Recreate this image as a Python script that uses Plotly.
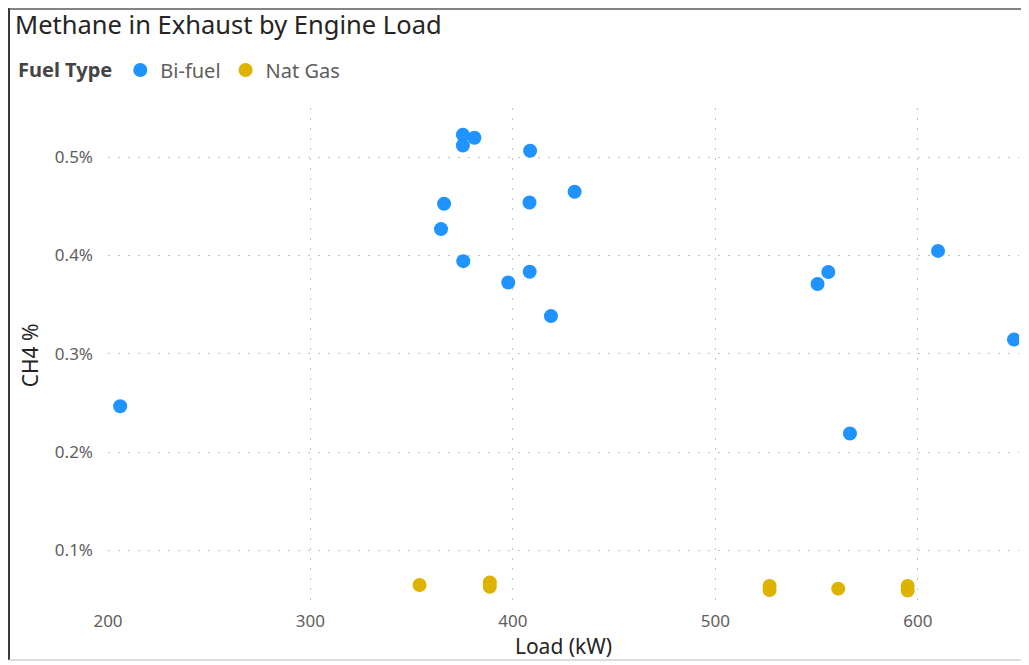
import plotly.graph_objects as go

# Data
bifuel_load = [206, 375.3, 381, 375.3, 408.5, 430.5, 366, 408.2, 364.5, 375.5,
               408.3, 397.7, 418.8, 550.5, 555.8, 610, 647.5, 566.5]
bifuel_ch4 = [0.2465, 0.5228, 0.5197, 0.5119, 0.5065, 0.4648, 0.4526, 0.4539, 0.4268, 0.3942,
              0.3834, 0.3725, 0.3383, 0.371, 0.3831, 0.4046, 0.3144, 0.2188]

natgas_load = [353.9, 388.6, 388.6, 526.8, 526.8, 560.7, 595, 595]
natgas_ch4 = [0.0647, 0.0672, 0.0630, 0.0637, 0.0597, 0.061, 0.0637, 0.059]

x_ticks = [200, 300, 400, 500, 600]
y_ticks = [0.1, 0.2, 0.3, 0.4, 0.5]
y_tick_text = ["0.1%", "0.2%", "0.3%", "0.4%", "0.5%"]

BLUE = "#1F93FF"
GOLD = "#DDB300"
FONT = "Noto Sans"

# page body has an 8px margin, so the figure starts at (8, 8) in the window
OFF = 8
W, H = 1029 - OFF, 665 - OFF
L, T = 108 - OFF, 108 - OFF
R = W - (1019 - OFF)
B = H - (603 - OFF)
PW, PH = W - L - R, H - T - B


def px_x(p):
    return (p - OFF - L) / PW


def px_y(p):
    return (H - B - (p - OFF)) / PH


fig = go.Figure()
fig.add_trace(go.Scatter(x=bifuel_load, y=bifuel_ch4, mode="markers", name="Bi-fuel",
                         marker=dict(color=BLUE, size=14, line=dict(width=0))))
fig.add_trace(go.Scatter(x=natgas_load, y=natgas_ch4, mode="markers", name="Nat Gas",
                         marker=dict(color=GOLD, size=14, line=dict(width=0))))

grid = dict(showgrid=True, gridcolor="#C4C2C0", gridwidth=1, griddash="2px,8px",
            zeroline=False, showline=False, ticks="", automargin=False)

fig.update_xaxes(range=[200, 650], tickvals=x_ticks, **grid,
                 tickfont=dict(family=FONT, size=17, color="#605E5C"),
                 ticklabelstandoff=6,
                 title=dict(text="Load (kW)", font=dict(family=FONT, size=21, color="#252423"),
                            standoff=8))
fig.update_yaxes(range=[0.0464, 0.55], tickvals=y_ticks, ticktext=y_tick_text, **grid,
                 tickfont=dict(family=FONT, size=17, color="#605E5C"),
                 ticklabelstandoff=14,
                 title=dict(text="CH4 %", font=dict(family=FONT, size=21, color="#252423"),
                            standoff=10))

fig.update_layout(
    width=W, height=H,
    margin=dict(l=L, r=R, t=T, b=B, autoexpand=False),
    paper_bgcolor="white", plot_bgcolor="white",
    title=dict(text="Methane in Exhaust by Engine Load", x=7 / W, xanchor="left",
               xref="container", y=1 - 17 / H, yanchor="middle", yref="container",
               font=dict(family=FONT, size=25.5, color="#252423")),
    legend=dict(orientation="h", x=px_x(16), xanchor="left", y=px_y(70), yanchor="middle",
                title=dict(text="<b>Fuel Type</b>", font=dict(family=FONT, size=20, color="#444444")),
                font=dict(family=FONT, size=20, color="#605E5C"),
                itemwidth=30, tracegroupgap=0, bgcolor="rgba(0,0,0,0)"),
    showlegend=True,
    shapes=[
        dict(type="line", xref="paper", yref="paper", x0=px_x(9), x1=px_x(9),
             y0=px_y(8), y1=px_y(660), line=dict(color="#3A3A3A", width=2)),
        dict(type="line", xref="paper", yref="paper", x0=px_x(9), x1=px_x(1029),
             y0=px_y(9), y1=px_y(9), line=dict(color="#5A5A5A", width=1.5)),
        dict(type="line", xref="paper", yref="paper", x0=px_x(9), x1=px_x(1029),
             y0=px_y(660), y1=px_y(660), line=dict(color="#D0D0D0", width=1.5)),
    ],
)

fig.write_html("out.html")
